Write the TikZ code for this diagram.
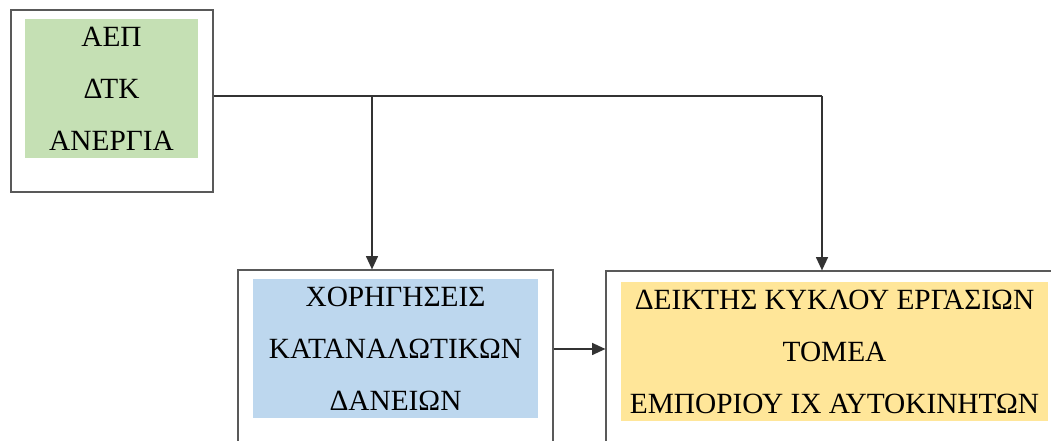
\documentclass[tikz,border=0pt]{standalone}
\usepackage{fontspec}
\setmainfont{Liberation Serif}
\usetikzlibrary{arrows.meta}

\definecolor{macroGreen}{HTML}{C5E0B4}
\definecolor{loanBlue}{HTML}{BDD7EE}
\definecolor{indexYellow}{HTML}{FFE699}

\begin{document}
\begin{tikzpicture}[x=0.75pt, y=-0.75pt,
    outerbox/.style={draw=black!65, line width=0.9pt, inner sep=0pt},
    fillbox/.style={inner sep=0pt, align=center, font=\fontsize{22}{39}\selectfont},
    link/.style={draw=black!80, line width=1.1pt},
    arrowlink/.style={link, -{Triangle[length=10pt, width=9pt]}}]
  \clip (0,0) rectangle (1051,441);
  \fill[white] (0,0) rectangle (1051,441);

  % boxes
  \node[outerbox, minimum width=151.5pt, minimum height=136.5pt] (macrobox) at (112,101) {};
  \node[fillbox, fill=macroGreen, minimum width=129.75pt, minimum height=104.25pt] (macro) at (111.5,89) {ΑΕΠ\\ΔΤΚ\\ΑΝΕΡΓΙΑ};

  \node[outerbox, minimum width=236.25pt, minimum height=142.5pt] (loansbox) at (395.5,365) {};
  \node[fillbox, fill=loanBlue, minimum width=213.75pt, minimum height=104.25pt] (loans) at (395.5,349) {ΧΟΡΗΓΗΣΕΙΣ\\ΚΑΤΑΝΑΛΩΤΙΚΩΝ\\ΔΑΝΕΙΩΝ};

  \node[outerbox, minimum width=348pt, minimum height=141.75pt] (indexbox) at (838,365.5) {};
  \node[fillbox, fill=indexYellow, minimum width=320.25pt, minimum height=104.25pt] (index) at (834.5,352) {ΔΕΙΚΤΗΣ ΚΥΚΛΟΥ ΕΡΓΑΣΙΩΝ\\ΤΟΜΕΑ\\ΕΜΠΟΡΙΟΥ ΙΧ ΑΥΤΟΚΙΝΗΤΩΝ};

  % connectors
  \coordinate (split) at (372,96);
  \coordinate (turn) at (822,96);
  \draw[link] (macrobox.east |- split) -- (turn);
  \draw[arrowlink] (split) -- (loansbox.north -| split);
  \draw[arrowlink] (turn) -- (indexbox.north -| turn);
  \draw[arrowlink] (loansbox.east |- loans) -- (indexbox.west |- loans);
\end{tikzpicture}
\end{document}
